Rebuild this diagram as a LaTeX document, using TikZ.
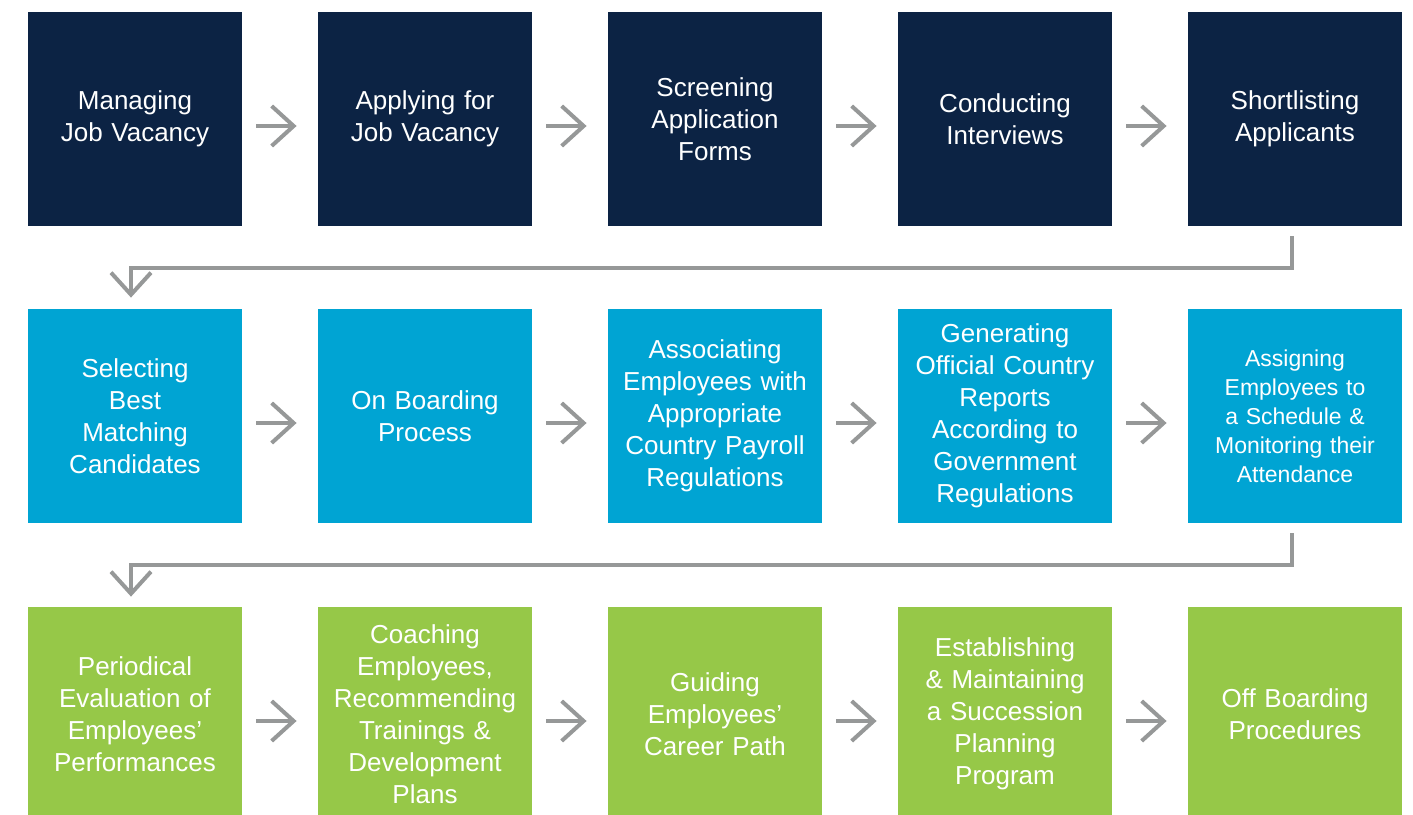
\documentclass[tikz,border=0pt]{standalone}
\usepackage{fontspec}
\setmainfont{Liberation Sans}
\usetikzlibrary{arrows.meta,positioning}
\definecolor{navy}{RGB}{12,35,68}
\definecolor{sky}{RGB}{0,164,211}
\definecolor{leaf}{RGB}{150,200,72}
\definecolor{pipe}{RGB}{150,152,152}
\tikzset{%
	stage/.style   = {rectangle, minimum width=107pt, minimum height=107pt, text width=105pt, inner sep=0pt, align=center, text=white, font=\fontsize{13}{16}\selectfont},
	hiring/.style  = {stage, fill=navy},
	keeping/.style = {stage, fill=sky},
	growing/.style = {stage, fill=leaf},
	flow/.style    = {draw=pipe, line width=2pt, -{Straight Barb[length=11pt,width=20pt]}},
	rowgap/.style  = {shorten <=7pt, shorten >=10.5pt},
}

\begin{document}
\begin{tikzpicture}[x=0.5pt,y=-0.5pt]
	\useasboundingbox (0,0) rectangle (1413,814);
	\clip (0,0) rectangle (1413,814);
	
	% first row
	\node[hiring] (m1) at (135,119) {Managing\\Job Vacancy};
	\node[hiring] (m2) at (425,119) {Applying for\\Job Vacancy};
	\node[hiring] (m3) at (715,119) {Screening\\Application\\Forms};
	\node[hiring] (m4) at (1005,119) {Conducting\\Interviews};
	\node[hiring] (m5) at (1295,119) {Shortlisting\\Applicants};
	
	% second row
	\node[keeping] (b1) at (135,416) {Selecting\\Best\\Matching\\Candidates};
	\node[keeping] (b2) at (425,416) {On Boarding\\Process};
	\node[keeping] (b3) at (715,416) {Associating\\Employees with\\Appropriate\\Country Payroll\\Regulations};
	\node[keeping] (b4) at (1005,416) {Generating\\Official Country\\Reports\\According to\\Government\\Regulations};
	\node[keeping, font=\fontsize{11.5}{14.5}\selectfont] (b5) at (1295,416) {Assigning\\Employees to\\a Schedule \&\\Monitoring their\\Attendance};
	
	% third row (runs past the lower edge)
	\node[growing] (g1) at (135,714) {Periodical\\Evaluation of\\Employees'\\Performances};
	\node[growing] (g2) at (425,714) {Coaching\\Employees,\\Recommending\\Trainings \&\\Development\\Plans};
	\node[growing] (g3) at (715,714) {Guiding\\Employees'\\Career Path};
	\node[growing] (g4) at (1005,714) {Establishing\\\& Maintaining\\a Succession\\Planning\\Program};
	\node[growing] (g5) at (1295,714) {Off Boarding\\Procedures};
	
	% arrows inside the rows
	\foreach \r in {m,b,g}{
		\foreach \a/\b in {1/2,2/3,3/4,4/5}{
			\draw[flow, rowgap] ([yshift=-3.5pt]\r\a.east) -- ([yshift=-3.5pt]\r\b.west);
		}
	}
	
	% turns between the rows
	\coordinate (turn1) at (131,268);
	\coordinate (turn2) at (131,565);
	\draw[flow, shorten <=5pt, shorten >=5.5pt] ([xshift=-1.5pt]m5.south) |- (turn1) -- ([xshift=-2pt]b1.north);
	\draw[flow, shorten <=5pt, shorten >=5pt] ([xshift=-1.5pt]b5.south) |- (turn2) -- ([xshift=-2pt]g1.north);
	
\end{tikzpicture}
\end{document}
